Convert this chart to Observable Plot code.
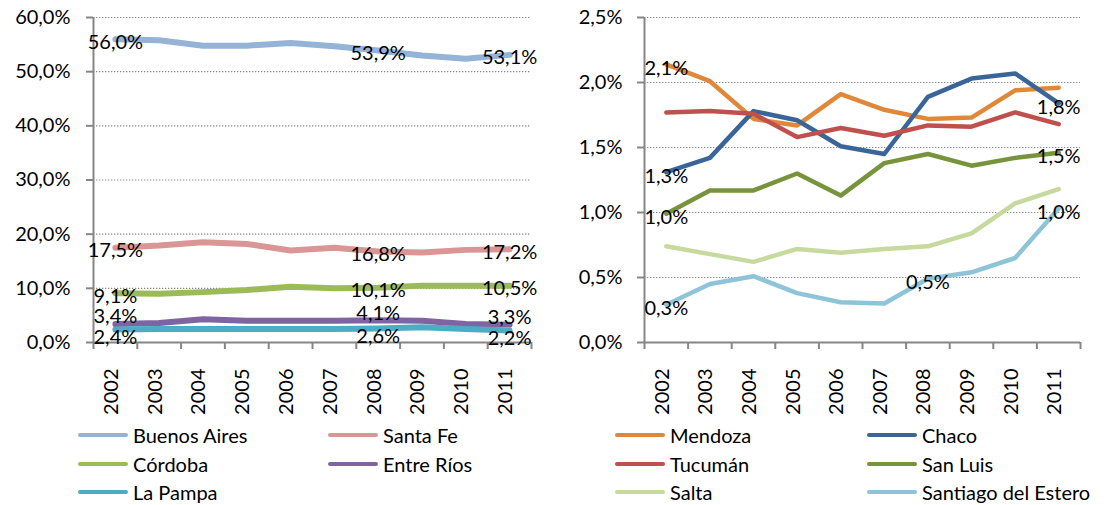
<!DOCTYPE html>
<html><head><meta charset="utf-8">
<script src="https://cdn.jsdelivr.net/npm/d3@7"></script>
<script src="https://cdn.jsdelivr.net/npm/@observablehq/plot@0.6"></script>
<style>
body{margin:0;background:#fff;font-family:Lato,sans-serif;}
#wrap{position:relative;width:1106px;height:505px;overflow:hidden;background:#fff;}
#left{position:absolute;left:0;top:0;}
#right{position:absolute;left:553px;top:0;}
.legend{position:absolute;display:grid;font-size:20px;line-height:28.5px;color:#000;}
.item{display:flex;align-items:center;white-space:nowrap;}
.sw{display:inline-block;width:50px;height:4px;margin-right:5px;border-radius:2px;}
</style></head><body>
<div id="wrap"><div id="left"></div><div id="right"></div>
<div class="legend" id="legL" style="left:78px;top:421px;grid-template-columns:250px auto;"></div>
<div class="legend" id="legR" style="left:615px;top:421px;grid-template-columns:252px auto;"></div>
</div>
<script>
const years = [2002, 2003, 2004, 2005, 2006, 2007, 2008, 2009, 2010, 2011];

// Left panel (% share)
const buenosAires = [56.0, 55.8, 54.8, 54.8, 55.3, 54.7, 53.9, 53.0, 52.4, 53.1];
const santaFe     = [17.5, 17.9, 18.5, 18.2, 17.0, 17.5, 16.8, 16.6, 17.1, 17.2];
const cordoba     = [9.1, 9.0, 9.3, 9.7, 10.3, 10.0, 10.1, 10.5, 10.5, 10.5];
const entreRios   = [3.4, 3.6, 4.3, 4.0, 4.0, 4.0, 4.1, 4.0, 3.4, 3.3];
const laPampa     = [2.4, 2.5, 2.5, 2.5, 2.5, 2.5, 2.6, 2.8, 2.5, 2.2];

// Right panel (% share)
const mendoza  = [2.14, 2.01, 1.72, 1.67, 1.91, 1.79, 1.72, 1.73, 1.94, 1.96];
const chaco    = [1.31, 1.42, 1.78, 1.71, 1.51, 1.45, 1.89, 2.03, 2.07, 1.84];
const tucuman  = [1.77, 1.78, 1.76, 1.58, 1.65, 1.59, 1.67, 1.66, 1.77, 1.68];
const sanLuis  = [0.99, 1.17, 1.17, 1.30, 1.13, 1.38, 1.45, 1.36, 1.42, 1.46];
const salta    = [0.74, 0.68, 0.62, 0.72, 0.69, 0.72, 0.74, 0.84, 1.07, 1.18];
const santiago = [0.29, 0.45, 0.51, 0.38, 0.31, 0.30, 0.49, 0.54, 0.65, 1.03];

const leftTicks = [0, 10, 20, 30, 40, 50, 60];
const rightTicks = [0, 0.5, 1, 1.5, 2, 2.5];

const leftNames = ["Buenos Aires", "Santa Fe", "Córdoba", "Entre Ríos", "La Pampa"];
const rightNames = ["Mendoza", "Chaco", "Tucumán", "San Luis", "Salta", "Santiago del Estero"];

// labelled points: [series name, year]
const leftLabelled = [
  ["Buenos Aires", 2002], ["Buenos Aires", 2008], ["Buenos Aires", 2011],
  ["Santa Fe", 2002], ["Santa Fe", 2008], ["Santa Fe", 2011],
  ["Córdoba", 2002], ["Córdoba", 2008], ["Córdoba", 2011],
  ["Entre Ríos", 2002], ["Entre Ríos", 2008], ["Entre Ríos", 2011],
  ["La Pampa", 2002], ["La Pampa", 2008], ["La Pampa", 2011]
];
const rightLabelled = [
  ["Mendoza", 2002], ["Chaco", 2002], ["Chaco", 2011],
  ["San Luis", 2002], ["San Luis", 2011],
  ["Santiago del Estero", 2002], ["Santiago del Estero", 2008], ["Santiago del Estero", 2011]
];

const leftValues = [buenosAires, santaFe, cordoba, entreRios, laPampa];
const rightValues = [mendoza, chaco, tucuman, sanLuis, salta, santiago];

// styles
const colors = {
  "Buenos Aires": "#95B3D7", "Santa Fe": "#D99694", "Córdoba": "#9BBB59",
  "Entre Ríos": "#8064A2", "La Pampa": "#4BACC6",
  "Mendoza": "#E0883A", "Chaco": "#3A6598", "Tucumán": "#C0504D",
  "San Luis": "#77933C", "Salta": "#C7DA9E", "Santiago del Estero": "#8EC4D8"
};
const labelDy = {
  "Buenos Aires": 3, "Santa Fe": 3, "Córdoba": 3, "Entre Ríos": -7, "La Pampa": 8,
  "Mendoza": 4, "Chaco": 4, "San Luis": 4, "Santiago del Estero": 4
};

const fmt = d3.formatLocale({decimal: ",", thousands: ".", grouping: [3], currency: ["$", ""]}).format(".1%");
const pct = d => fmt(d / 100);
const axisGray = "#868686";

function chart(names, values, ticks, labelled, lineWidth, mLeft, mRight, padY) {
  const rows = names.flatMap((n, si) => years.map((yr, i) => ({name: n, year: yr, value: values[si][i]})));
  const xDom = [years[0] - 0.5, years[years.length - 1] + 0.5];
  const bounds = [...years.map(y => y - 0.5), years[years.length - 1] + 0.5];
  const yMax = ticks[ticks.length - 1];
  const labRows = labelled.map(([n, yr]) => rows.find(r => r.name === n && r.year === yr));
  const marks = [
    Plot.gridY(ticks.filter(t => t > 0), {stroke: axisGray, strokeOpacity: 1, strokeWidth: 1.2, strokeDasharray: "1.3,1.7"}),
    Plot.axisY({ticks, tickSize: 7, tickPadding: padY, tickFormat: pct, stroke: axisGray, strokeWidth: 2, fill: "black", label: null}),
    Plot.axisX({ticks: bounds, tickSize: 7, tickFormat: () => "", stroke: axisGray, strokeWidth: 2, label: null}),
    Plot.axisX({ticks: years, tickSize: 0, tickPadding: 26, tickRotate: -90, dx: -4, tickFormat: d => String(d), fill: "black", label: null}),
    Plot.ruleY([0], {stroke: axisGray, strokeWidth: 2}),
    Plot.ruleX([xDom[0]], {y1: 0, y2: yMax, stroke: axisGray, strokeWidth: 2}),
    ...names.map(n => Plot.line(rows.filter(r => r.name === n), {x: "year", y: "value", stroke: colors[n], strokeWidth: lineWidth, strokeLinejoin: "round", strokeLinecap: "round"})),
    ...names.filter(n => labRows.some(r => r.name === n)).map(n =>
      Plot.text(labRows.filter(r => r.name === n), {x: "year", y: "value", text: d => pct(d.value), dy: labelDy[n], fill: "black", fontSize: 20, textAnchor: "middle"}))
  ];
  return Plot.plot({
    width: 553, height: 420,
    marginLeft: mLeft, marginRight: mRight, marginTop: 17, marginBottom: 78,
    style: {fontFamily: "Lato, sans-serif", fontSize: "20px", color: "black", background: "white", overflow: "visible"},
    x: {type: "linear", domain: xDom, axis: null},
    y: {domain: [0, yMax], axis: null},
    marks
  });
}

document.getElementById("left").appendChild(chart(leftNames, leftValues, leftTicks, leftLabelled, 6, 93, 22, 16));
document.getElementById("right").appendChild(chart(rightNames, rightValues, rightTicks, rightLabelled, 4.5, 91, 26, 15));

function legend(el, names) {
  names.forEach(n => {
    const it = document.createElement("div");
    it.className = "item";
    const sw = document.createElement("span");
    sw.className = "sw";
    sw.style.background = colors[n];
    it.appendChild(sw);
    it.appendChild(document.createTextNode(n));
    el.appendChild(it);
  });
}
legend(document.getElementById("legL"), leftNames);
legend(document.getElementById("legR"), rightNames);
</script>
</body></html>
